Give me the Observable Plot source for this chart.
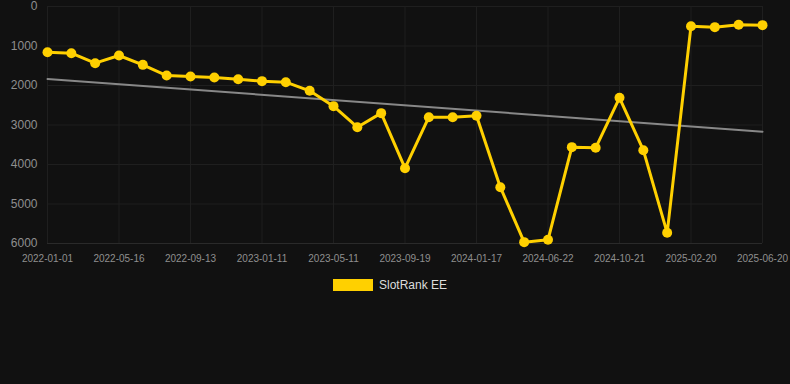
<!DOCTYPE html>
<html>
<head>
<meta charset="utf-8">
<script src="https://cdn.jsdelivr.net/npm/d3@7"></script>
<script src="https://cdn.jsdelivr.net/npm/@observablehq/plot@0.6"></script>
<style>
  html, body { margin: 0; padding: 0; background: #111111; }
  body { width: 790px; height: 384px; position: relative; overflow: hidden; font-family: "Liberation Sans", Arial, sans-serif; }
  #chart { position: absolute; left: 0; top: 0; }
  #legend { position: absolute; left: 333px; top: 278px; display: flex; align-items: center; gap: 6px; font-size: 12px; color: #dddddd; }
  #legend .sw { width: 40px; height: 12px; background: #FFD000; }
</style>
</head>
<body>
<div id="chart"></div>
<div id="legend"><div class="sw"></div><span>SlotRank EE</span></div>
<script>
const tickLabels = ["2022-01-01","2022-05-16","2022-09-13","2023-01-11","2023-05-11","2023-09-19","2024-01-17","2024-06-22","2024-10-21","2025-02-20","2025-06-20"];
const rankValues = [1157,1182,1435,1240,1477,1747,1772,1797,1840,1890,1916,2135,2523,3055,2700,4093,2802,2802,2768,4574,5966,5907,3561,3578,2312,3637,5730,498,523,464,472];
const yTicks = [0,1000,2000,3000,4000,5000,6000];
const labelStep = 3;

const data = rankValues.map((v, i) => ({i, v}));
const xTicks = tickLabels.map((_, k) => k * labelStep);

const chart = Plot.plot({
  width: 790,
  height: 270,
  marginLeft: 47,
  marginRight: 28,
  marginTop: 6,
  marginBottom: 27,
  style: {background: "#111111", fontFamily: "Liberation Sans, Arial, sans-serif"},
  x: {domain: [0, rankValues.length - 1]},
  y: {domain: [0, 6000], reverse: true},
  marks: [
    Plot.gridY(yTicks, {stroke: "#1f1f1f", strokeOpacity: 1}),
    Plot.gridX(xTicks, {stroke: "#1f1f1f", strokeOpacity: 1}),
    Plot.ruleY([6000], {stroke: "#2a2a2a"}),
    Plot.axisY(yTicks, {tickSize: 0, tickPadding: 10, fontSize: 12, fill: "#8f8f8f", label: null, tickFormat: d => String(d)}),
    Plot.axisX(xTicks, {tickSize: 0, tickPadding: 11, fontSize: 10, fill: "#8f8f8f", label: null, tickFormat: d => tickLabels[d / labelStep]}),
    Plot.linearRegressionY(data, {x: "i", y: "v", ci: 0, stroke: "#888888", strokeWidth: 2}),
    Plot.line(data, {x: "i", y: "v", stroke: "#FFD000", strokeWidth: 3}),
    Plot.dot(data, {x: "i", y: "v", r: 5, fill: "#FFD000", stroke: "none"})
  ]
});
document.getElementById("chart").appendChild(chart);
</script>
</body>
</html>
